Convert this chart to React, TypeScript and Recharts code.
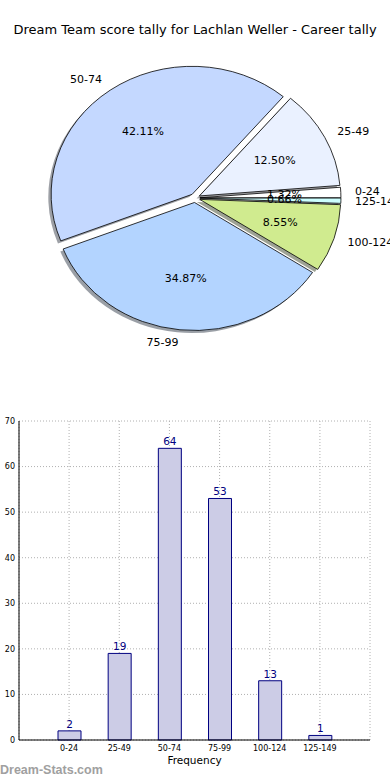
import React from 'react';
import { PieChart, Pie, Cell, BarChart, Bar, XAxis, YAxis, CartesianGrid, LabelList } from 'recharts';

const categories = ['0-24', '25-49', '50-74', '75-99', '100-124', '125-149'];
const counts = [2, 19, 64, 53, 13, 1];
const sliceColors = ['#ffffff', '#eaf1ff', '#c4d8ff', '#b3d4ff', '#d0eb8f', '#ccffff'];
const yTicks = [0, 10, 20, 30, 40, 50, 60, 70];

const total = counts.reduce((a, b) => a + b, 0);
const pieData = categories.map((name, i) => ({ name, value: counts[i] }));
const barData = categories.map((name, i) => ({ name, count: counts[i] }));

const RAD = Math.PI / 180;
const SQUASH = 0.908; // the original pie is an ellipse (axes not equal)
const EXPLODE = 0.035;
const FONT = "'DejaVu Sans', sans-serif";

// darker, half transparent copy of a colour for the drop shadow
const shade = (hex: string) => {
  const n = parseInt(hex.slice(1), 16);
  const r = Math.round(((n >> 16) & 255) * 0.3);
  const g = Math.round(((n >> 8) & 255) * 0.3);
  const b = Math.round((n & 255) * 0.3);
  return `rgb(${r},${g},${b})`;
};

const center = (cx: number, cy: number, r: number, mid: number) => ({
  x: cx + EXPLODE * r * Math.cos(mid * RAD),
  y: cy - EXPLODE * r * SQUASH * Math.sin(mid * RAD),
});

const wedgePath = (cx: number, cy: number, rx: number, ry: number, a0: number, a1: number) => {
  const x0 = cx + rx * Math.cos(a0 * RAD);
  const y0 = cy - ry * Math.sin(a0 * RAD);
  const x1 = cx + rx * Math.cos(a1 * RAD);
  const y1 = cy - ry * Math.sin(a1 * RAD);
  const large = a1 - a0 > 180 ? 1 : 0;
  return `M${cx},${cy}L${x0},${y0}A${rx},${ry} 0 ${large} 0 ${x1},${y1}Z`;
};

const Wedge = (props: any) => {
  const { cx, cy, outerRadius, startAngle, endAngle, fill } = props;
  const mid = (startAngle + endAngle) / 2;
  const c = center(cx, cy, outerRadius, mid);
  return (
    <path
      d={wedgePath(c.x, c.y, outerRadius, outerRadius * SQUASH, startAngle, endAngle)}
      fill={fill}
      stroke="#000"
      strokeWidth={0.8}
    />
  );
};

const ShadowWedge = (props: any) => {
  const { cx, cy, outerRadius, startAngle, endAngle, fill } = props;
  const mid = (startAngle + endAngle) / 2;
  const c = center(cx, cy, outerRadius, mid);
  const dx = -0.02 * outerRadius;
  const dy = 0.02 * outerRadius * SQUASH;
  return (
    <path
      d={wedgePath(c.x + dx, c.y + dy, outerRadius, outerRadius * SQUASH, startAngle, endAngle)}
      fill={fill}
      fillOpacity={0.5}
      stroke="none"
    />
  );
};

const renderPieLabels = (props: any) => {
  const { cx, cy, midAngle, outerRadius, index } = props;
  const c = center(cx, cy, outerRadius, midAngle);
  const cos = Math.cos(midAngle * RAD);
  const sin = Math.sin(midAngle * RAD);
  const rx = outerRadius;
  const ry = outerRadius * SQUASH;
  return (
    <g>
      <text
        x={c.x + 1.1 * rx * cos}
        y={c.y - 1.1 * ry * sin}
        textAnchor={cos >= 0 ? 'start' : 'end'}
        dominantBaseline="central"
        fontSize={11}
        fontFamily={FONT}
        fill="#000"
      >
        {categories[index]}
      </text>
      <text
        x={c.x + 0.6 * rx * cos}
        y={c.y - 0.6 * ry * sin}
        textAnchor="middle"
        dominantBaseline="central"
        fontSize={11}
        fontFamily={FONT}
        fill="#000"
      >
        {((counts[index] / total) * 100).toFixed(2)}%
      </text>
    </g>
  );
};

export default function App() {
  return (
    <div style={{ position: 'absolute', left: 0, top: 0, width: 390, height: 780, background: '#fff', fontFamily: FONT }}>
      <div style={{ position: 'absolute', top: 22, left: 0, width: 390, textAlign: 'center', fontSize: 13, lineHeight: '16px', color: '#000' }}>
        Dream Team score tally for Lachlan Weller - Career tally
      </div>
      <div style={{ position: 'absolute', top: 0, left: 0 }}>
        <PieChart width={390} height={400} margin={{ top: 0, right: 0, bottom: 0, left: 0 }}>
          <Pie
            data={pieData}
            dataKey="value"
            nameKey="name"
            cx={195}
            cy={198}
            outerRadius={141}
            startAngle={0}
            endAngle={360}
            shape={ShadowWedge}
            label={false}
            labelLine={false}
            isAnimationActive={false}
          >
            {pieData.map((d, i) => (
              <Cell key={`s-${d.name}`} fill={shade(sliceColors[i])} />
            ))}
          </Pie>
          <Pie
            data={pieData}
            dataKey="value"
            nameKey="name"
            cx={195}
            cy={198}
            outerRadius={141}
            startAngle={0}
            endAngle={360}
            shape={Wedge}
            label={renderPieLabels}
            labelLine={false}
            isAnimationActive={false}
          >
            {pieData.map((d, i) => (
              <Cell key={`c-${d.name}`} fill={sliceColors[i]} />
            ))}
          </Pie>
        </PieChart>
      </div>
      <div style={{ position: 'absolute', top: 400, left: 0 }}>
        <BarChart width={390} height={380} data={barData} margin={{ top: 21, right: 20, bottom: 0, left: 0 }}>
          <CartesianGrid stroke="#b0b0b0" strokeDasharray="1 2" />
          <XAxis
            dataKey="name"
            padding={{ left: 25, right: 25 }}
            axisLine={{ stroke: '#000' }}
            tickLine={false}
            tickSize={4}
            tickMargin={1}
            interval={0}
            height={40}
            tick={{ fontSize: 8, fill: '#000', fontFamily: FONT }}
            label={{ value: 'Frequency', position: 'insideBottom', offset: 16, fontSize: 10.5, fill: '#000', fontFamily: FONT }}
          />
          <XAxis xAxisId="top" orientation="top" dataKey="name" height={0} tick={false} tickLine={false} axisLine={{ stroke: '#000' }} />
          <YAxis
            domain={[0, 70]}
            ticks={yTicks}
            width={19}
            axisLine={{ stroke: '#000' }}
            tickLine={false}
            tickSize={4}
            tickMargin={0}
            tick={{ fontSize: 8, fill: '#000', fontFamily: FONT }}
          />
          <YAxis yAxisId="right" orientation="right" width={0} tick={false} tickLine={false} axisLine={{ stroke: '#000' }} />
          <Bar dataKey="count" barSize={23} fill="#ccccE6" stroke="#000080" strokeWidth={1} isAnimationActive={false}>
            <LabelList dataKey="count" position="top" offset={3} fill="#000080" fontSize={10.5} fontFamily={FONT} />
          </Bar>
        </BarChart>
      </div>
      <div style={{ position: 'absolute', top: 763, left: 0, fontFamily: "'Liberation Sans', sans-serif", fontWeight: 'bold', fontSize: 12.5, color: '#a0a0a0' }}>
        Dream-Stats.com
      </div>
    </div>
  );
}
